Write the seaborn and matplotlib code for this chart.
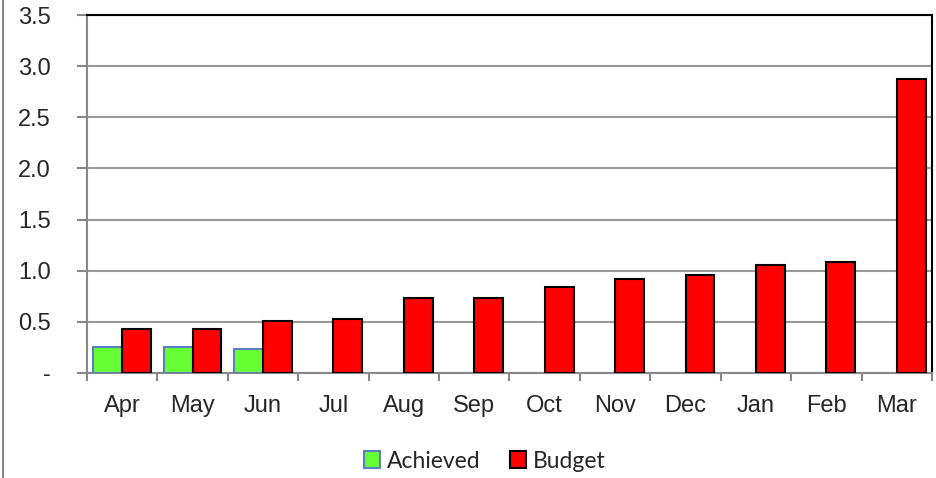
import numpy as np
import pandas as pd
import matplotlib
matplotlib.use("Agg")
import matplotlib.pyplot as plt
from matplotlib.patches import Patch
import seaborn as sns

months = ["Apr", "May", "Jun", "Jul", "Aug", "Sep", "Oct", "Nov", "Dec", "Jan", "Feb", "Mar"]
achieved = [0.25, 0.25, 0.23, np.nan, np.nan, np.nan, np.nan, np.nan, np.nan, np.nan, np.nan, np.nan]
budget = [0.43, 0.43, 0.51, 0.53, 0.73, 0.73, 0.84, 0.92, 0.96, 1.06, 1.09, 2.87]
series = ["Achieved", "Budget"]
yticks = [0, 0.5, 1.0, 1.5, 2.0, 2.5, 3.0, 3.5]
yticklabels = ["-", "0.5", "1.0", "1.5", "2.0", "2.5", "3.0", "3.5"]

df = pd.DataFrame({
    "Month": months * 2,
    "Series": [series[0]] * len(months) + [series[1]] * len(months),
    "Value": achieved + budget,
})

sns.set_style("white")
plt.rcParams["font.family"] = ["Liberation Sans", "DejaVu Sans"]

fig = plt.figure(figsize=(9.37, 4.78), dpi=100)
ax = fig.add_axes([87 / 937, 1 - 373 / 478, (932 - 87) / 937, (373 - 15) / 478])

colors = {"Achieved": "#66ff33", "Budget": "#ff0000"}
edges = {"Achieved": "#5b7fc4", "Budget": "#000000"}
sns.barplot(data=df, x="Month", y="Value", hue="Series", hue_order=series,
            palette=colors, width=0.82, gap=0, ax=ax, legend=False,
            saturation=1, zorder=3)

for container, s in zip(ax.containers, series):
    for p in container.patches:
        p.set_edgecolor(edges[s])
        p.set_linewidth(1.5)

ax.set_ylim(0, 3.5)
ax.set_xlim(-0.5, len(months) - 0.5)
ax.set_yticks(yticks)
ax.set_yticklabels(yticklabels)
ax.set_xticks(range(len(months)))
ax.set_xticklabels(months)
ax.set_xlabel("")
ax.set_ylabel("")
ax.grid(axis="y", color="#999999", linewidth=1.5, zorder=0)
ax.set_axisbelow(True)

ax.set_xticks(np.arange(-0.5, len(months), 1), minor=True)
ax.tick_params(axis="x", which="major", length=0, pad=16, labelsize=17, labelfontfamily="Liberation Sans")
ax.tick_params(axis="x", which="minor", length=6, width=1.5, color="#888888", direction="out", bottom=True)
ax.tick_params(axis="y", length=7, width=1.5, color="#888888", direction="out", left=True, pad=19,
               labelsize=17, labelfontfamily="Liberation Sans")

for side in ["left", "bottom"]:
    ax.spines[side].set_color("#888888")
    ax.spines[side].set_linewidth(1.5)
for side in ["top", "right"]:
    ax.spines[side].set_visible(True)
    ax.spines[side].set_color("#000000")
    ax.spines[side].set_linewidth(1.5)

fig.add_artist(plt.Line2D([3 / 937, 3 / 937], [0, 1], color="#888888", linewidth=1.5, transform=fig.transFigure))

handles = [Patch(facecolor=colors[s], edgecolor=edges[s], linewidth=1.5, label=s) for s in series]
fig.legend(handles=handles, loc="center", bbox_to_anchor=(485 / 937, 1 - 461 / 478),
           ncol=2, frameon=False, handlelength=0.7, handleheight=0.7, handletextpad=0.3,
           columnspacing=1.3, prop={"family": "Lato", "size": 16.5})

fig.savefig("out.png", dpi=100)
